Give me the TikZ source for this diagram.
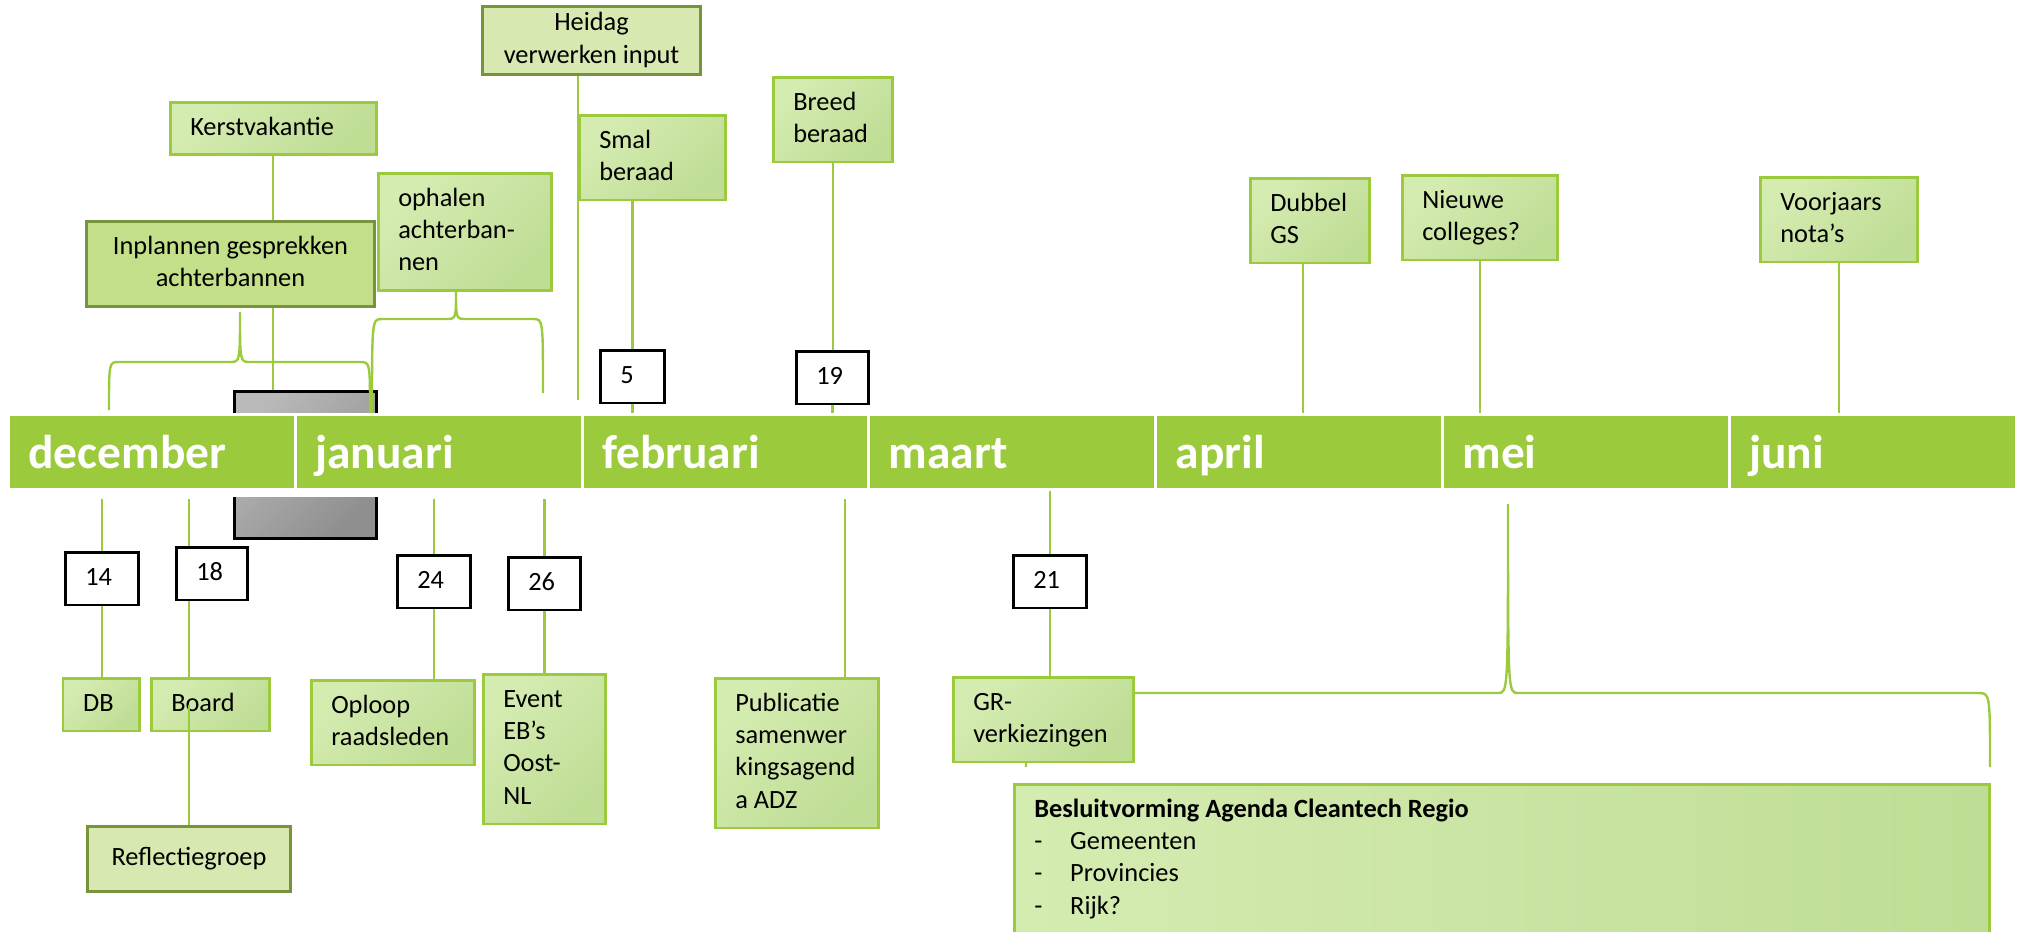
\documentclass[tikz,border=0pt]{standalone}
\usepackage{fontspec}
\setmainfont{Carlito}

\definecolor{balk}{HTML}{9BCB3C}
\definecolor{olijf}{HTML}{77933C}
\definecolor{vaklicht}{HTML}{D5ECB1}
\definecolor{vakdonker}{HTML}{BFDD95}
\definecolor{heilicht}{HTML}{D7E8B1}
\definecolor{planfill}{HTML}{C3DF8A}
\definecolor{grijslicht}{HTML}{B9B9B9}
\definecolor{grijsdonker}{HTML}{8F8F8F}

\tikzset{
  tekst/.style={anchor=north west, inner xsep=0.2cm, inner ysep=0.1cm,
    align=flush left, font=\fontsize{7.5}{9.24}\selectfont,
    execute at begin node=\strut, execute at end node=\strut},
  vak/.style={tekst, draw=balk, line width=0.025cm,
    top color=vaklicht, bottom color=vakdonker, shading angle=45},
  kader/.style={tekst, draw=olijf, line width=0.03cm, fill=heilicht, align=flush center},
  datum/.style={tekst, draw=black, line width=0.027cm, fill=white},
  maand/.style={draw=white, line width=0.03cm, fill=balk,
    minimum width=2.87cm, minimum height=0.75cm, inner xsep=0.2cm,
    text width=2.47cm, align=flush left, text height=0.32cm, text depth=0pt,
    text=white, font=\fontsize{13.5}{16}\selectfont\bfseries},
  lijn/.style={draw=balk, line width=0.024cm}
}

\begin{document}
\begin{tikzpicture}
        \useasboundingbox (0,0) rectangle (20.27,-9.31);
        \coordinate (hoog) at (0,-4.00);
        \coordinate (boven) at (0,-4.13);
        \coordinate (onder) at (0,-4.99);
        % grey block round the turn of the year
        \node[draw=black, line width=0.027cm, anchor=north west, minimum width=1.42cm,
          minimum height=1.47cm, top color=grijslicht, bottom color=grijsdonker,
          shading angle=45] (grijs) at (2.33,-3.90) {};
        \fill[white] (2.28,-4.13) rectangle (3.80,-4.97);
        % the months
        \node[maand] (dec) at (1.52,-4.52) {december};
        \node[maand] (jan) at (4.388,-4.52) {januari};
        \node[maand] (feb) at (7.256,-4.52) {februari};
        \node[maand] (maa) at (10.124,-4.52) {maart};
        \node[maand] (apr) at (12.992,-4.52) {april};
        \node[maand] (mei) at (15.86,-4.52) {mei};
        \node[maand] (jun) at (18.728,-4.52) {juni};
        % braces
        \draw[lijn] (1.09,-4.10) .. controls (1.09,-3.62) and (1.09,-3.62) .. (1.19,-3.62)
          -- (2.30,-3.62) .. controls (2.40,-3.62) and (2.40,-3.62) .. (2.40,-3.12)
          .. controls (2.40,-3.62) and (2.40,-3.62) .. (2.50,-3.62)
          -- (3.60,-3.62) .. controls (3.70,-3.62) and (3.70,-3.62) .. (3.70,-4.13);
        \draw[lijn] (3.72,-4.13) .. controls (3.72,-3.19) and (3.72,-3.19) .. (3.82,-3.19)
          -- (4.46,-3.19) .. controls (4.56,-3.19) and (4.56,-3.19) .. (4.56,-2.90)
          .. controls (4.56,-3.19) and (4.56,-3.19) .. (4.66,-3.19)
          -- (5.33,-3.19) .. controls (5.43,-3.19) and (5.43,-3.19) .. (5.43,-3.93);
        \draw[lijn] (10.26,-7.67) .. controls (10.26,-6.93) and (10.26,-6.93) .. (10.38,-6.93)
          -- (14.98,-6.93) .. controls (15.08,-6.93) and (15.08,-6.93) .. (15.08,-5.04)
          .. controls (15.08,-6.93) and (15.08,-6.93) .. (15.18,-6.93)
          -- (19.78,-6.93) .. controls (19.90,-6.93) and (19.90,-6.93) .. (19.90,-7.67);
        % above the bar
        \node[kader, inner xsep=0.18cm, inner ysep=0.015cm, text width=1.82cm] (heidag)
          at (4.81,-0.05) {Heidag\\verwerken input};
        \node[vak, text width=1.66cm] (kerst) at (1.69,-1.01) {Kerstvakantie};
        \node[kader, fill=planfill, text width=2.48cm] (inplannen) at (0.85,-2.20)
          {Inplannen gesprekken\\achterbannen};
        \node[vak, text width=1.33cm] (ophalen) at (3.77,-1.72) {ophalen\\achterban-\\nen};
        \node[vak, text width=1.06cm] (smal) at (5.78,-1.14) {Smal\\beraad};
        \node[vak, text width=0.79cm] (breed) at (7.72,-0.76) {Breed\\beraad};
        \node[vak, text width=0.79cm] (dubbel) at (12.49,-1.77) {Dubbel\\GS};
        \node[vak, text width=1.15cm] (nieuwe) at (14.01,-1.74) {Nieuwe\\colleges?};
        \node[vak, text width=1.17cm] (voorjaars) at (17.59,-1.76) {Voorjaars\\nota’s};
        \node[datum, text width=0.24cm] (d5) at (5.99,-3.49) {5};
        \node[datum, text width=0.32cm] (d19) at (7.95,-3.50) {19};
        % below the bar
        \node[datum, text width=0.33cm] (d14) at (0.64,-5.51) {14};
        \node[datum, text width=0.31cm] (d18) at (1.75,-5.46) {18};
        \node[datum, text width=0.33cm] (d24) at (3.96,-5.54) {24};
        \node[datum, text width=0.32cm] (d26) at (5.07,-5.56) {26};
        \node[datum, text width=0.33cm] (d21) at (10.12,-5.54) {21};
        \node[vak, text width=0.36cm] (db) at (0.62,-6.77) {DB};
        \node[vak, text width=0.78cm] (board) at (1.50,-6.77) {Board};
        \node[kader, text width=1.63cm, minimum height=0.65cm] (reflectie) at (0.86,-8.25)
          {Reflectiegroep};
        \node[vak, text width=1.23cm] (oploop) at (3.10,-6.79) {Oploop\\raadsleden};
        \node[vak, text width=0.82cm] (event) at (4.82,-6.73) {Event\\EB’s\\Oost-\\NL};
        \node[vak, text width=1.23cm] (publicatie) at (7.14,-6.77)
          {Publicatie\\samenwer\\kingsagend\\a ADZ};
        \node[vak, text width=1.40cm] (gr) at (9.52,-6.76) {GR-\\verkiezingen};
        \node[vak, left color=vaklicht, right color=vakdonker, text width=9.35cm] (besluit)
          at (10.13,-7.83) {\textbf{Besluitvorming Agenda Cleantech Regio}\\
          \makebox[0.36cm][l]{-}Gemeenten\\
          \makebox[0.36cm][l]{-}Provincies\\
          \makebox[0.36cm][l]{-}Rijk?};
        % connectors
        \draw[lijn] (heidag.south -| smal.west) -- (smal.west |- hoog);
        \draw[lijn] (kerst.south) -- (kerst.south |- inplannen.north);
        \draw[lijn] (kerst.south |- inplannen.south) -- (kerst.south |- grijs.north);
        \draw[lijn] (d5.north |- smal.south) -- (d5.north);
        \draw[lijn] (d5.south) -- (d5.south |- boven);
        \draw[lijn] (breed.south) -- (breed.south |- d19.north);
        \draw[lijn] (d19.south) -- (d19.south |- boven);
        \draw[lijn] ([xshift=-0.07cm]dubbel.south) -- ([xshift=-0.07cm]dubbel.south |- apr.north);
        \draw[lijn] (nieuwe.south) -- (nieuwe.south |- mei.north);
        \draw[lijn] (voorjaars.south) -- (voorjaars.south |- jun.north);
        \draw[lijn] (d14.north |- onder) -- (d14.north);
        \draw[lijn] (d14.south) -- (d14.south |- db.north);
        \draw[lijn] (reflectie.north |- onder) -- (reflectie.north |- d18.north);
        \draw[lijn] (reflectie.north |- d18.south) -- (reflectie.north |- board.north);
        \draw[lijn] (reflectie.north |- board.center) -- (reflectie.north);
        \draw[lijn] (d24.north |- onder) -- (d24.north);
        \draw[lijn] (d24.south) -- (d24.south |- oploop.north);
        \draw[lijn] (d26.north |- onder) -- (d26.north);
        \draw[lijn] (d26.south) -- (d26.south |- event.north);
        \coordinate (pub) at ([xshift=0.48cm]publicatie.north);
        \draw[lijn] (pub |- onder) -- (pub);
        \draw[lijn] (d21.north |- maa.south) -- (d21.north);
        \draw[lijn] (d21.south) -- (d21.south |- gr.north);
\end{tikzpicture}
\end{document}
